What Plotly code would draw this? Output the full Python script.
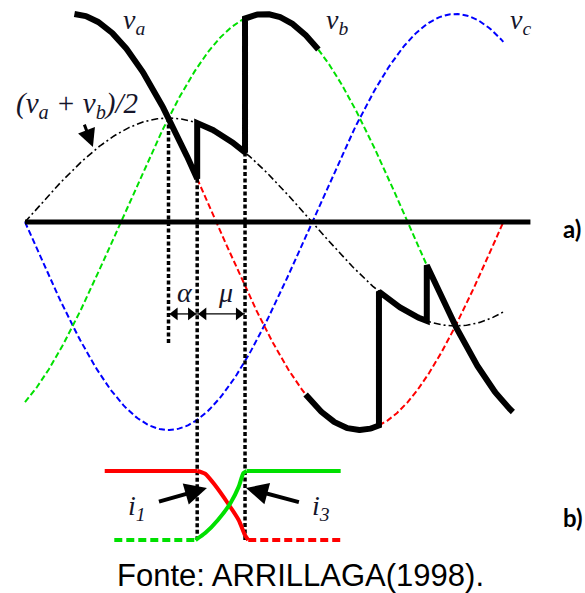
import numpy as np
import plotly.graph_objects as go

# ---- waveform parameters (angles in electrical degrees) ----
PHASE_SHIFT = {"va": 60.0, "vb": -60.0, "vc": 180.0}   # v = sin(theta + shift)
MID_GAIN = 0.5                                          # (va + vb)/2 = 0.5*sin(theta)

# dashed (non-conducting) portions of each phase voltage
VA_DASHED = [(108, 176), (222, 300)]
VB_DASHED = [(0, 138), (184, 252)]
VC_DASHED = [(0, 300)]
MID_SPAN = (0, 301)

# conducting envelope: (phase before, firing angle, end of overlap, phase after)
UPPER_RAIL = {"start": 31, "fire": 108, "overlap_end": 138, "stop": 184}
LOWER_RAIL = {"start": 176, "fire": 222, "overlap_end": 252, "stop": 306}

# commutation markers
NATURAL_ANGLE = 90
FIRING_ANGLE = 108
OVERLAP_END = 138
AXIS_SPAN = (0, 317)
DIM_LEVEL = -0.442        # height of the alpha / mu dimension arrows

# commutating currents (per unit of Id)
I1_ON_THETA = [50, 108]
I1_ON_VALUE = [1, 1]
I1_THETA = [108, 113, 119, 127, 134, 138, 140]
I1_VALUE = [1, 0.96, 0.80, 0.54, 0.29, 0.07, 0]
I1_OFF_THETA = [140, 198]
I1_OFF_VALUE = [0, 0]
I3_OFF_THETA = [56, 107]
I3_OFF_VALUE = [0, 0]
I3_THETA = [107, 113, 121, 129, 134, 137, 139]
I3_VALUE = [0, 0.10, 0.29, 0.54, 0.77, 0.97, 1]
I3_ON_THETA = [139, 198]
I3_ON_VALUE = [1, 1]

RED, GREEN, BLUE = "#ff0000", "#00e000", "#0000ff"
INK = "#15152a"


def wave(name, t):
    return np.sin(np.radians(t + PHASE_SHIFT[name]))


def mid(t):
    return MID_GAIN * np.sin(np.radians(t))


def grid(a, b, n=200):
    return np.linspace(a, b, n)


fig = go.Figure()

dash_style = "6px,3px"
for name, spans, col in [("vc", VC_DASHED, BLUE), ("vb", VB_DASHED, GREEN), ("va", VA_DASHED, RED)]:
    for a, b in spans:
        t = grid(a, b)
        fig.add_trace(go.Scatter(x=t, y=wave(name, t), mode="lines",
                                 line=dict(color=col, width=2, dash=dash_style)))

t = grid(*MID_SPAN, 400)
fig.add_trace(go.Scatter(x=t, y=mid(t), mode="lines",
                         line=dict(color="black", width=1.6, dash="7px,3px,2px,3px")))

# zero axis
fig.add_trace(go.Scatter(x=list(AXIS_SPAN), y=[0, 0], mode="lines",
                         line=dict(color="black", width=5)))


def rail(r):
    t1 = grid(r["start"], r["fire"], 120)
    t2 = grid(r["fire"], r["overlap_end"], 60)
    t3 = grid(r["overlap_end"], r["stop"], 120)
    x = np.concatenate([t1, t2, t3])
    y = np.concatenate([wave("va", t1), mid(t2), wave("vb", t3)])
    return x, y


for r in (UPPER_RAIL, LOWER_RAIL):
    x, y = rail(r)
    fig.add_trace(go.Scatter(x=x, y=y, mode="lines",
                             line=dict(color="black", width=6)))

# vertical commutation markers
I_BASE_V = -1.529   # voltage-axis level of the zero-current line
markers = [
    ([NATURAL_ANGLE] * 2, [mid(NATURAL_ANGLE), -0.591]),
    ([FIRING_ANGLE] * 2, [wave("va", FIRING_ANGLE), I_BASE_V]),
    ([OVERLAP_END] * 2, [mid(OVERLAP_END), I_BASE_V]),
]
for mx, my in markers:
    fig.add_trace(go.Scatter(x=mx, y=my, mode="lines",
                             line=dict(color="black", width=3.5, dash="4px,2.5px")))

# alpha / mu dimension arrows: shaft plus outward-pointing triangle heads
HEAD = 11                                     # marker size, px
deg_per_px = (351.23 + 15.68) / 585
tip_off = HEAD / 2 * 2 / np.sqrt(3) * deg_per_px
for a, b in [(NATURAL_ANGLE, FIRING_ANGLE), (FIRING_ANGLE, OVERLAP_END)]:
    fig.add_trace(go.Scatter(x=[a, b], y=[DIM_LEVEL] * 2, mode="lines",
                             line=dict(color="black", width=1.3)))
    fig.add_trace(go.Scatter(x=[a + tip_off, b - tip_off], y=[DIM_LEVEL] * 2,
                             mode="markers",
                             marker=dict(symbol=["triangle-left", "triangle-right"],
                                         size=HEAD, color="black",
                                         line=dict(width=0))))

# currents (second y axis)
solid_i = dict(width=4)
dashed_i = dict(width=4, dash="8px,4px")
curves = [
    (I1_ON_THETA, I1_ON_VALUE, RED, solid_i),
    (I1_THETA, I1_VALUE, RED, dict(width=4, shape="spline", smoothing=0.6)),
    (I1_OFF_THETA, I1_OFF_VALUE, RED, dashed_i),
    (I3_OFF_THETA, I3_OFF_VALUE, GREEN, dashed_i),
    (I3_THETA, I3_VALUE, GREEN, dict(width=4, shape="spline", smoothing=0.6)),
    (I3_ON_THETA, I3_ON_VALUE, GREEN, solid_i),
]
for cx, cy, col, st in curves:
    fig.add_trace(go.Scatter(x=cx, y=cy, yaxis="y2", mode="lines",
                             line=dict(color=col, **st)))

serif = dict(family="Liberation Serif", size=28, color=INK)
labels = [
    (68.4, 0.966, "y", "<i>v<sub>a</sub></i>"),
    (195.7, 0.966, "y", "<i>v<sub>b</sub></i>"),
    (311, 0.962, "y", "<i>v<sub>c</sub></i>"),
    (100.4, -0.337, "y", "<i>α</i>"),
    (126, -0.337, "y", "<i>μ</i>"),
]
for x, y, yr, txt in labels:
    fig.add_annotation(x=x, y=y, xref="x", yref=yr, text=txt, showarrow=False,
                       font=serif)

# labels with pointer arrows (text sits at the arrow tail)
pointers = [
    (42.6, 0.36, "y", -16, -42, 0, 3, 1.2, 29,
     "<i>(v<sub>a</sub> + v<sub>b</sub>)/2</i>"),
    (114.1, 0.754, "y2", -70, 20, 12, 4, 1.1, 28, "<i>i<sub>1</sub></i>"),
    (138.6, 0.754, "y2", 75, 20, 12, 4, 1.1, 28, "<i>i<sub>3</sub></i>"),
]
for x, y, yr, ax, ay, stand, w, sz, fs, txt in pointers:
    fig.add_annotation(x=x, y=y, xref="x", yref=yr, ax=ax, ay=ay, text=txt,
                       showarrow=True, arrowhead=2, arrowsize=sz, arrowwidth=w,
                       arrowcolor="black", startstandoff=stand,
                       font=dict(serif, size=fs))

bold = dict(family="Lato", size=24, color="black")
fig.add_annotation(x=336.2, y=-0.03, xref="x", yref="y", text="<b>a)</b>",
                   xanchor="left", showarrow=False, font=bold)
fig.add_annotation(x=336.2, y=0.32, xref="x", yref="y2", text="<b>b)</b>",
                   xanchor="left", showarrow=False, font=bold)

fig.add_annotation(x=0.513, y=1 - 575 / 593, xref="paper", yref="paper",
                   xanchor="center", yanchor="middle",
                   text="Fonte: ARRILLAGA(1998).", showarrow=False,
                   font=dict(family="Liberation Sans", size=31, color="black"))

fig.update_layout(
    width=585, height=593, margin=dict(l=0, r=0, t=0, b=0),
    paper_bgcolor="white", plot_bgcolor="white", showlegend=False,
    xaxis=dict(range=[-15.68, 351.23], visible=False, fixedrange=True),
    yaxis=dict(range=[-1.7837, 1.0673], visible=False, fixedrange=True),
    yaxis2=dict(range=[-0.768, 7.826], overlaying="y", visible=False, fixedrange=True),
)

fig.write_html("out.html")
